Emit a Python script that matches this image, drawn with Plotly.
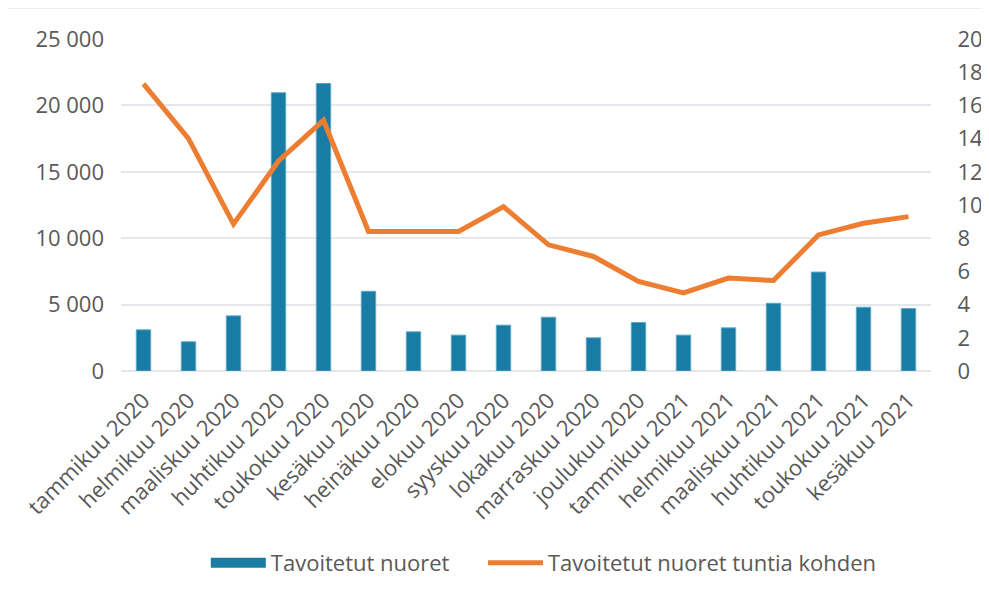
import plotly.graph_objects as go

months = ["tammikuu 2020", "helmikuu 2020", "maaliskuu 2020", "huhtikuu 2020",
          "toukokuu 2020", "kesäkuu 2020", "heinäkuu 2020", "elokuu 2020",
          "syyskuu 2020", "lokakuu 2020", "marraskuu 2020", "joulukuu 2020",
          "tammikuu 2021", "helmikuu 2021", "maaliskuu 2021", "huhtikuu 2021",
          "toukokuu 2021", "kesäkuu 2021"]
reached = [3100, 2200, 4150, 20950, 21650, 6000, 2950, 2700, 3450, 4050,
           2500, 3650, 2700, 3250, 5100, 7450, 4800, 4700]
per_hour = [17.3, 14.0, 8.85, 12.65, 15.1, 8.4, 8.4, 8.4, 9.9, 7.6,
            6.9, 5.4, 4.7, 5.6, 5.45, 8.2, 8.9, 9.3]
left_ticks = [0, 5000, 10000, 15000, 20000, 25000]
left_labels = ["0", "5 000", "10 000", "15 000", "20 000", "25 000"]
right_ticks = list(range(0, 21, 2))

FONT = "Open Sans"
TXT = "#595959"
GRID = "#E4E8EC"
BLUE = "#187CA4"
CLEAR = "rgba(0,0,0,0)"

fig = go.Figure()
fig.add_trace(go.Bar(
    x=months, y=reached, name="Tavoitetut nuoret",
    marker=dict(color=BLUE, line=dict(color="#5FA6C6", width=1)),
    yaxis="y", showlegend=False,
))
# legend-only entry to mimic the wide rectangular bar swatch
fig.add_trace(go.Scatter(
    x=[None], y=[None], name="Tavoitetut nuoret" + "\u00a0" * 5, mode="lines",
    line=dict(color=BLUE, width=14), yaxis="y",
))
fig.add_trace(go.Scatter(
    x=months, y=per_hour, name="Tavoitetut nuoret tuntia kohden",
    mode="lines", line=dict(color="#ED7D31", width=5), yaxis="y2",
))

fig.update_layout(
    width=981, height=592,
    margin=dict(l=113, r=58, t=31, b=229),
    paper_bgcolor="white", plot_bgcolor="white",
    font=dict(family=FONT, size=22, color=TXT),
    bargap=0.68,
    showlegend=True,
    legend=dict(orientation="h", x=0.522, xanchor="center", y=-0.578, yanchor="middle",
                font=dict(family=FONT, size=22, color=TXT), itemwidth=55,
                traceorder="normal"),
    xaxis=dict(type="category", tickangle=-45, showgrid=False, showline=False,
               ticks="outside", ticklen=7, tickcolor=CLEAR,
               tickfont=dict(size=22, color=TXT), automargin=False),
    yaxis=dict(range=[0, 25000], tickvals=left_ticks, ticktext=left_labels,
               showgrid=True, gridcolor=GRID, gridwidth=2, zeroline=True,
               zerolinecolor=GRID, zerolinewidth=2, showline=False, ticks="",
               ticklabelstandoff=16, automargin=False),
    yaxis2=dict(range=[0, 20], tickvals=right_ticks, overlaying="y", side="right",
                showgrid=False, zeroline=False, showline=False,
                ticks="outside", ticklen=21, tickcolor=CLEAR, automargin=False),
    shapes=[dict(type="rect", xref="paper", yref="paper",
                 x0=-0.1407, x1=1.3, y0=1.094, y1=-0.9,
                 line=dict(color="#E2E6EA", width=2), fillcolor=CLEAR,
                 layer="below")],
)

fig.write_html("out.html")
